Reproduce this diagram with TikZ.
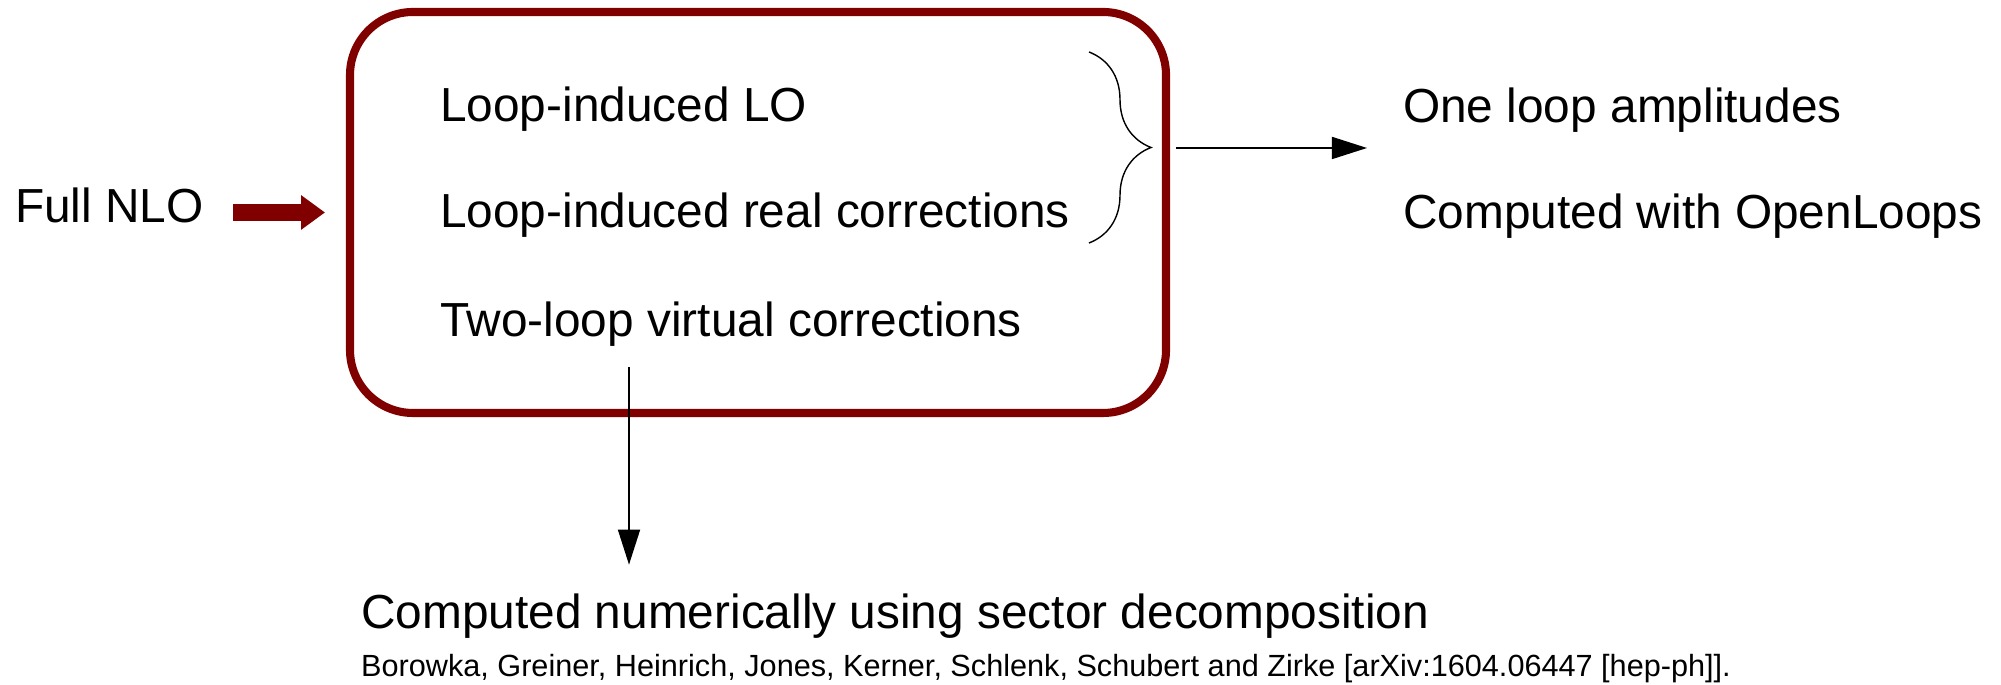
\documentclass[tikz,border=0pt]{standalone}
\usepackage{fontspec}
\setmainfont{Liberation Sans}
\usepackage{tikz}
\usetikzlibrary{arrows.meta,positioning,calc,decorations.pathreplacing}
\definecolor{Maroon}{HTML}{800000}

\begin{document}
\begin{tikzpicture}[x=1cm,y=1cm,
  label/.style={anchor=base west,inner sep=0pt,font=\fontsize{13.6}{16}\selectfont},
  cite/.style={anchor=base west,inner sep=0pt,font=\fontsize{8.72}{10}\selectfont},
  thinarrow/.style={-{Triangle[length=10pt,width=6.3pt]},line width=0.4pt},
  fatarrow/.style={-{Triangle[length=6.8pt,width=9.4pt]},line width=4.8pt,draw=Maroon}]
\path[use as bounding box] (0,0) rectangle (20.01,6.85);

% contributions box
\node[draw=Maroon,line width=2.3pt,rounded corners=0.63cm,minimum width=8.16cm,minimum height=4.01cm,outer sep=0pt] (box) at (7.58,4.725) {};
\node[label] (lolo) at (4.395,5.63) {Loop-induced LO};
\node[label] (loreal) at (4.395,4.57) {Loop-induced real corrections};
\node[label] (twoloop) at (4.395,3.48) {Two-loop virtual corrections};

% input
\node[label] (nlo) at (0.145,4.62) {Full NLO};
\draw[fatarrow,shorten <=0.29cm,shorten >=0.25cm] (nlo.east |- box.west) -- (box.west);

% one-loop branch
\coordinate (btop) at (10.89,6.33);
\coordinate (bbot) at (10.89,4.42);
\draw[decorate,decoration={brace,amplitude=0.62cm},line width=0.4pt] (btop) -- (bbot);
\coordinate (rstart) at (11.76,5.37);
\coordinate (rend) at (13.67,5.37);
\draw[thinarrow] (rstart) -- (rend);
\node[label] (oneloop) at (14.025,5.62) {One loop amplitudes};
\node[label] (openloops) at (14.025,4.56) {Computed with OpenLoops};

% two-loop branch
\node[label] (numeric) at (3.605,0.56) {Computed numerically using sector decomposition};
\node[cite] (ref) at (3.605,0.08) {Borowka, Greiner, Heinrich, Jones, Kerner, Schlenk, Schubert and Zirke [arXiv:1604.06447 [hep-ph]].};
\coordinate (vstart) at (6.29,3.18);
\draw[thinarrow,shorten >=0.29cm] (vstart) -- (vstart |- numeric.north);
\end{tikzpicture}
\end{document}
